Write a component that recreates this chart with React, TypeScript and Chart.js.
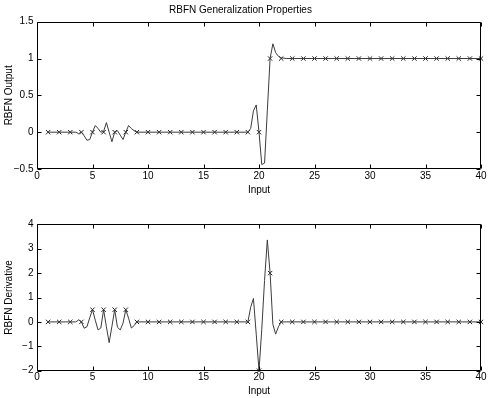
import React, { useEffect, useRef } from "react";
import { Chart, registerables } from "chart.js";

Chart.register(...registerables);

const FONT = "'Liberation Sans', Arial, Helvetica, sans-serif";

// Training inputs (marked with x)
const trainX = [1, 2, 3, 4, 5, 6, 7, 8, 9, 10, 11, 12, 13, 14, 15, 16, 17, 18, 19, 20, 21, 22, 23, 24, 25, 26, 27, 28, 29, 30, 31, 32, 33, 34, 35, 36, 37, 38, 39, 40];
const outputTarget = [0, 0, 0, 0, 0, 0, 0, 0, 0, 0, 0, 0, 0, 0, 0, 0, 0, 0, 0, 0, 1, 1, 1, 1, 1, 1, 1, 1, 1, 1, 1, 1, 1, 1, 1, 1, 1, 1, 1, 1];
const derivTarget = [0, 0, 0, 0, 0.5, 0.5, 0.5, 0.5, 0, 0, 0, 0, 0, 0, 0, 0, 0, 0, 0, -2, 2, 0, 0, 0, 0, 0, 0, 0, 0, 0, 0, 0, 0, 0, 0, 0, 0, 0, 0, 0];

// RBFN output curve
const outputCurveX = [1, 3.5, 3.75, 4, 4.25, 4.5, 4.75, 5, 5.25, 5.5, 5.75, 6, 6.25, 6.5, 6.75, 7, 7.25, 7.5, 7.75, 8, 8.25, 8.5, 8.75, 9, 19, 19.25, 19.5, 19.75, 20, 20.25, 20.5, 20.75, 21, 21.25, 21.5, 21.75, 22, 22.5, 40];
const outputCurveY = [0, 0, -0.02, 0, -0.05, -0.11, -0.1, 0, 0.09, 0.05, 0, 0.01, 0.13, 0, -0.13, 0, 0.02, -0.04, -0.1, 0, 0.09, 0.05, 0.02, 0, 0, 0.05, 0.29, 0.37, 0, -0.44, -0.42, 0.29, 1.0, 1.2, 1.08, 1.03, 1.01, 1.0, 1.0];

// RBFN derivative curve
const derivCurveX = [1, 3.5, 3.75, 4, 4.25, 4.5, 4.75, 5, 5.25, 5.5, 5.75, 6, 6.25, 6.5, 6.75, 7, 7.25, 7.5, 7.75, 8, 8.25, 8.5, 8.75, 9, 19, 19.25, 19.5, 19.75, 20, 20.25, 20.5, 20.75, 21, 21.25, 21.5, 21.75, 22, 40];
const derivCurveY = [0, 0, 0.08, 0, -0.26, -0.2, 0.17, 0.5, 0.07, -0.33, -0.25, 0.5, -0.2, -0.85, -0.18, 0.5, -0.22, -0.33, -0.05, 0.5, 0.15, -0.25, -0.15, 0, 0, 0.6, 0.96, -0.5, -2, -0.3, 1.7, 3.36, 2.0, -0.1, -0.5, -0.2, 0, 0];

const xRange = [0, 40];
const xStep = 5;
const outputRange = [-0.5, 1.5];
const outputStep = 0.5;
const derivRange = [-2, 4];
const derivStep = 1;

const fmt = (v: number) => (v < 0 ? "\u2212" + String(Math.abs(v)) : String(v));

const boxTicks = {
  id: "boxTicks",
  afterDraw(chart: any) {
    const { ctx, chartArea: a, scales } = chart;
    const L = Math.round(a.left) + 0.5;
    const R = Math.round(a.right) - 0.5;
    const T = Math.round(a.top) + 0.5;
    const B = Math.round(a.bottom) - 0.5;
    const len = 4;
    ctx.save();
    ctx.strokeStyle = "#000";
    ctx.lineWidth = 1;
    ctx.beginPath();
    ctx.rect(L, T, R - L, B - T);
    scales.x.ticks.forEach((t: any) => {
      const px = Math.round(scales.x.getPixelForValue(t.value)) + 0.5;
      ctx.moveTo(px, B);
      ctx.lineTo(px, B - len);
      ctx.moveTo(px, T);
      ctx.lineTo(px, T + len);
    });
    scales.y.ticks.forEach((t: any) => {
      const py = Math.round(scales.y.getPixelForValue(t.value)) + 0.5;
      ctx.moveTo(L, py);
      ctx.lineTo(L + len, py);
      ctx.moveTo(R, py);
      ctx.lineTo(R - len, py);
    });
    ctx.stroke();
    ctx.restore();
  },
};

function makeConfig(opts: {
  curveX: number[];
  curveY: number[];
  target: number[];
  yRange: number[];
  yStep: number;
  yTitle: string;
  title?: string;
  topPad: number;
  xHeight: number;
  xTitleBottom: number;
}) {
  const curve = opts.curveX.map((x, i) => ({ x, y: opts.curveY[i] }));
  const marks = trainX.map((x, i) => ({ x, y: opts.target[i] }));
  return {
    type: "scatter" as const,
    data: {
      datasets: [
        {
          data: curve,
          showLine: true,
          borderColor: "#3c3c3c",
          borderWidth: 1,
          pointRadius: 0,
          tension: 0,
          clip: false as any,
        },
        {
          data: marks,
          showLine: false,
          pointStyle: "crossRot",
          pointRadius: 3.1,
          borderColor: "#222",
          backgroundColor: "#222",
          pointBorderWidth: 1,
          clip: false as any,
        },
      ],
    },
    options: {
      responsive: false,
      animation: false as const,
      events: [],
      layout: { padding: { top: opts.topPad, right: 10, left: 0, bottom: 0 } },
      plugins: {
        legend: { display: false },
        tooltip: { enabled: false },
        title: opts.title
          ? {
              display: true,
              text: opts.title,
              color: "#000",
              font: { family: FONT, size: 10, weight: "normal" as const },
              padding: { top: 4, bottom: 5.7 },
            }
          : { display: false },
      },
      scales: {
        x: {
          type: "linear" as const,
          min: xRange[0],
          max: xRange[1],
          grid: { display: false, drawTicks: false },
          border: { display: false },
          ticks: {
            stepSize: xStep,
            padding: 1,
            color: "#000",
            font: { family: FONT, size: 10 },
            maxRotation: 0,
            callback: (v: any) => fmt(Number(v)),
          },
          title: {
            display: true,
            text: "Input",
            color: "#000",
            font: { family: FONT, size: 10 },
            padding: { top: 0, bottom: opts.xTitleBottom },
          },
          afterFit: (s: any) => {
            s.height = opts.xHeight;
          },
        },
        y: {
          type: "linear" as const,
          min: opts.yRange[0],
          max: opts.yRange[1],
          grid: { display: false, drawTicks: false },
          border: { display: false },
          ticks: {
            stepSize: opts.yStep,
            padding: 3.5,
            color: "#000",
            font: { family: FONT, size: 10 },
            callback: (v: any) => fmt(Number(v)),
          },
          title: {
            display: true,
            text: opts.yTitle,
            color: "#000",
            font: { family: FONT, size: 10 },
            padding: { top: 3, bottom: 0 },
          },
          afterFit: (s: any) => {
            s.width = 37;
          },
        },
      },
    },
    plugins: [boxTicks],
  };
}

export default function App() {
  const topRef = useRef<HTMLCanvasElement>(null);
  const botRef = useRef<HTMLCanvasElement>(null);

  useEffect(() => {
    const c1 = new Chart(
      topRef.current as HTMLCanvasElement,
      makeConfig({
        curveX: outputCurveX,
        curveY: outputCurveY,
        target: outputTarget,
        yRange: outputRange,
        yStep: outputStep,
        yTitle: "RBFN Output",
        title: "RBFN Generalization Properties",
        topPad: 0,
        xHeight: 31,
        xTitleBottom: 3.3,
      }) as any
    );
    const c2 = new Chart(
      botRef.current as HTMLCanvasElement,
      makeConfig({
        curveX: derivCurveX,
        curveY: derivCurveY,
        target: derivTarget,
        yRange: derivRange,
        yStep: derivStep,
        yTitle: "RBFN Derivative",
        topPad: 24.3,
        xHeight: 27.3,
        xTitleBottom: 0.3,
      }) as any
    );
    return () => {
      c1.destroy();
      c2.destroy();
    };
  }, []);

  return (
    <div style={{ position: "absolute", left: 0, top: 0, width: 491, height: 398, background: "#fff" }}>
      <canvas ref={topRef} width={491} height={200} style={{ position: "absolute", left: 0, top: 0 }} />
      <canvas ref={botRef} width={491} height={198} style={{ position: "absolute", left: 0, top: 200 }} />
    </div>
  );
}
